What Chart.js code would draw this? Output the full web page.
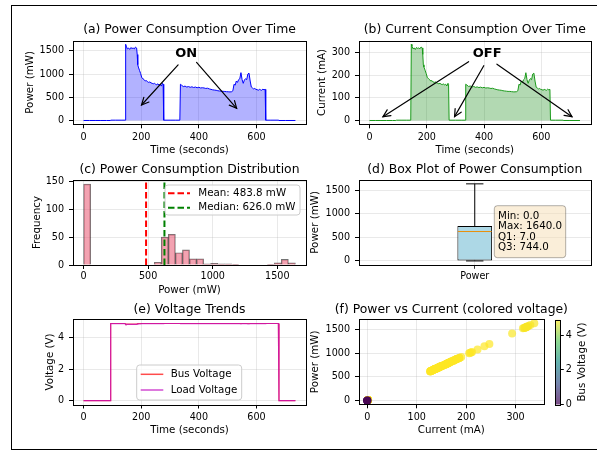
<!DOCTYPE html>
<html><head><meta charset="utf-8">
<script src="https://cdn.jsdelivr.net/npm/chart.js@4.4.1/dist/chart.umd.min.js"></script>
<style>
html,body{margin:0;padding:0;background:#fff;}
body{width:597px;height:450px;overflow:hidden;position:relative;}
canvas{position:absolute;}
#frame{position:absolute;left:11px;top:5px;width:700px;height:445px;border:1px solid #000;box-sizing:border-box;}
</style></head><body>
<div id="frame"></div>
<canvas id="ca"></canvas><canvas id="cbp"></canvas><canvas id="cc"></canvas><canvas id="cd"></canvas><canvas id="ce"></canvas><canvas id="cf"></canvas><canvas id="ccb"></canvas>
<script>
// ---------------- data ----------------
const timeSec = [0,20,40,60,80,92,94,110,130,144,
  146,148,152,156,160,164,168,172,176,180,
  184,186,188,190,194,198,202,206,210,214,
  218,222,226,230,234,238,242,246,250,254,
  258,262,266,270,274,276,278,300,320,334,
  336,340,346,352,358,364,370,376,382,388,
  394,400,406,412,418,424,430,436,442,448,
  454,460,466,472,478,484,490,496,502,508,
  514,518,522,526,530,534,538,542,546,550,
  554,558,562,566,570,574,578,582,586,590,
  594,598,602,606,610,614,618,622,626,630,
  632,650,676,678,700,735];
const powerMW = [0,0,0,0,0,0,7,7,7,7,
  1640,1600,1540,1560,1530,1570,1550,1560,1540,1580,
  1560,1420,1200,1150,1080,1010,920,900,880,850,
  860,830,820,830,810,800,790,800,780,770,
  790,760,780,740,800,780,7,7,7,7,
  780,760,730,740,720,730,715,725,710,720,
  705,715,700,705,700,690,695,680,670,660,
  655,650,640,635,630,628,625,620,618,615,
  620,640,780,760,850,820,880,900,1030,880,
  800,870,900,880,1000,1020,850,720,700,680,
  690,670,665,650,670,660,650,675,660,670,
  7,7,7,0,0,0];
const currentMA = [0,0,0,0,0,0,1.4,1.4,1.4,1.4,
  338,330,318,322,315,324,320,322,318,326,
  322,293,247,237,223,208,190,186,181,175,
  177,171,169,171,167,165,163,165,161,159,
  163,157,161,153,165,161,1.4,1.4,1.4,1.4,
  161,157,151,153,148,151,147,149,146,148,
  145,147,144,145,144,142,143,140,138,136,
  135,134,132,131,130,129,129,128,127,127,
  128,132,161,157,175,169,181,186,212,181,
  165,179,186,181,206,210,175,148,144,140,
  142,138,137,134,138,136,134,139,136,138,
  1.4,1.4,1.4,0,0,0];
const busV = [0,0,0,0,0,0,4.88,4.88,4.88,4.88,
  4.84,4.84,4.84,4.84,4.84,4.84,4.84,4.84,4.84,4.84,
  4.84,4.86,4.88,4.88,4.88,4.88,4.88,4.88,4.88,4.88,
  4.88,4.88,4.88,4.88,4.88,4.88,4.88,4.88,4.88,4.88,
  4.88,4.88,4.88,4.88,4.88,4.88,4.88,4.88,4.88,4.88,
  4.88,4.88,4.88,4.88,4.88,4.88,4.88,4.88,4.88,4.88,
  4.88,4.88,4.88,4.88,4.88,4.88,4.88,4.88,4.88,4.88,
  4.88,4.88,4.88,4.88,4.88,4.88,4.88,4.88,4.88,4.88,
  4.88,4.88,4.88,4.88,4.88,4.88,4.88,4.88,4.88,4.88,
  4.88,4.88,4.88,4.88,4.88,4.88,4.88,4.88,4.88,4.88,
  4.88,4.88,4.88,4.88,4.88,4.88,4.88,4.88,4.88,4.88,
  4.88,4.88,4.88,0,0,0];
const loadV = [0,0,0,0,0,0,4.87,4.87,4.87,4.87,
  4.82,4.82,4.82,4.82,4.82,4.82,4.82,4.82,4.82,4.82,
  4.82,4.84,4.86,4.86,4.86,4.86,4.87,4.87,4.87,4.87,
  4.87,4.87,4.87,4.87,4.87,4.87,4.87,4.87,4.87,4.87,
  4.87,4.87,4.87,4.87,4.87,4.87,4.88,4.88,4.88,4.88,
  4.87,4.87,4.87,4.87,4.87,4.87,4.87,4.87,4.87,4.87,
  4.87,4.87,4.87,4.87,4.87,4.87,4.87,4.87,4.87,4.87,
  4.87,4.87,4.87,4.87,4.87,4.87,4.87,4.87,4.87,4.87,
  4.87,4.87,4.87,4.87,4.87,4.87,4.87,4.87,4.86,4.87,
  4.87,4.87,4.87,4.87,4.86,4.86,4.87,4.87,4.87,4.87,
  4.87,4.87,4.87,4.87,4.87,4.87,4.87,4.87,4.87,4.87,
  4.88,4.88,4.88,0,0,0];
const histBinWidth = 54.67;
const histCounts = [145,0,0,0,0,0,0,0,0,0,
  5,50,55,22,27,11,11,2,3,2,
  2,1,0,0,0,0,1,4,10,4];
const meanPower = 483.8;
const medianPower = 626.0;
const boxMin = 0.0, boxQ1 = 7.0, boxMedian = 626.0, boxQ3 = 744.0, boxMax = 1640.0;
const timeTicks = [0,200,400,600];
const powerTicks = [0,500,1000,1500];
const currentTicks = [0,100,200,300];
const freqTicks = [0,50,100,150];
const voltTicks = [0,2,4];
const cbTicks = [0,2,4];
const onLabel = 'ON', onText = [356,1446], onStarts = [[328,1196],[392,1252]], onTips = [[201,334],[531,263]];
const offLabel = 'OFF', offText = [411,298], offStarts = [[346,261],[399,243],[445,250]], offTips = [[47,17],[297,17],[707,17]];

// ---------------- style helpers ----------------
const FF = "'DejaVu Sans', sans-serif";
const TICK = 9.6, LAB = 10.3, TIT = 12.4;
const GRID = 'rgba(176,176,176,0.35)';
Chart.defaults.font.family = FF;
Chart.defaults.color = '#000';
const extras = {};

function linAxis(min, max, ticks, title, tpad, isX, pad){
  return {type:'linear', min:min, max:max, offset:false,
    afterBuildTicks: s => { s.ticks = ticks.map(v => ({value:v})); },
    grid:{color:GRID, lineWidth:0.8, tickColor:'#000', tickLength:4, tickWidth:1, offset:false},
    border:{display:false},
    ticks:{font:{size:TICK}, color:'#000', padding: pad, maxRotation:0, autoSkip:false, callback: v => String(v)},
    title: title ? {display:true, text:title, font:{size:LAB}, color:'#000', padding:tpad} : {display:false}
  };
}
function rr(ctx,x,y,w,h,r){ctx.beginPath();ctx.moveTo(x+r,y);ctx.lineTo(x+w-r,y);ctx.quadraticCurveTo(x+w,y,x+w,y+r);ctx.lineTo(x+w,y+h-r);ctx.quadraticCurveTo(x+w,y+h,x+w-r,y+h);ctx.lineTo(x+r,y+h);ctx.quadraticCurveTo(x,y+h,x,y+h-r);ctx.lineTo(x,y+r);ctx.quadraticCurveTo(x,y,x+r,y);ctx.closePath();}
function arrow(ctx,x1,y1,x2,y2){
  ctx.beginPath();ctx.moveTo(x1,y1);ctx.lineTo(x2,y2);ctx.stroke();
  const a=Math.atan2(y2-y1,x2-x1),L=8,h=0.45;
  ctx.beginPath();ctx.moveTo(x2-L*Math.cos(a-h),y2-L*Math.sin(a-h));ctx.lineTo(x2,y2);ctx.lineTo(x2-L*Math.cos(a+h),y2-L*Math.sin(a+h));ctx.stroke();
}
function callout(chart,ctx,label,pos,starts,tips){
  const xs=chart.scales.x, ys=chart.scales.y;
  ctx.strokeStyle='#000'; ctx.lineWidth=1.2; ctx.lineCap='round';
  starts.forEach((s,i)=>arrow(ctx,xs.getPixelForValue(s[0]),ys.getPixelForValue(s[1]),xs.getPixelForValue(tips[i][0]),ys.getPixelForValue(tips[i][1])));
  ctx.fillStyle='#000'; ctx.font='bold 13px '+FF; ctx.textAlign='center'; ctx.textBaseline='middle';
  ctx.fillText(label,xs.getPixelForValue(pos[0]),ys.getPixelForValue(pos[1]));
}
function legendBox(chart,ctx,rect,items,lx1,lx2,tx){
  const b=extras[chart.canvas.id].box, X=v=>v-b[0], Y=v=>v-b[1];
  ctx.save();
  ctx.fillStyle='rgba(255,255,255,0.8)'; ctx.strokeStyle='#cccccc'; ctx.lineWidth=1;
  rr(ctx,X(rect[0]),Y(rect[1]),rect[2]-rect[0],rect[3]-rect[1],3); ctx.fill(); ctx.stroke();
  items.forEach(it=>{
    ctx.strokeStyle=it.color; ctx.lineWidth=it.lw; ctx.setLineDash(it.dash||[]);
    ctx.beginPath(); ctx.moveTo(X(lx1),Y(it.y)); ctx.lineTo(X(lx2),Y(it.y)); ctx.stroke(); ctx.setLineDash([]);
    ctx.fillStyle='#000'; ctx.font=LAB+'px '+FF; ctx.textAlign='left'; ctx.textBaseline='middle';
    ctx.fillText(it.text,X(tx),Y(it.y));
  });
  ctx.restore();
}
const VIR=[[68,1,84],[59,82,139],[33,145,140],[94,201,98],[253,231,37]];
function viridis(t,a){t=Math.max(0,Math.min(1,t));const s=t*4,i=Math.min(3,Math.floor(s)),f=s-i;const c=VIR[i].map((v,k)=>Math.round(v+(VIR[i+1][k]-v)*f));return 'rgba('+c[0]+','+c[1]+','+c[2]+','+a+')';}

Chart.register({
  id:'deco',
  beforeDatasetsDraw(chart){const e=extras[chart.canvas.id]; if(e&&e.before){chart.ctx.save();e.before(chart,chart.ctx);chart.ctx.restore();}},
  afterDatasetsDraw(chart){const e=extras[chart.canvas.id]; if(e&&e.after){chart.ctx.save();e.after(chart,chart.ctx);chart.ctx.restore();}},
  afterDraw(chart){
    const e=extras[chart.canvas.id]; if(!e) return;
    const ctx=chart.ctx, a=chart.chartArea;
    ctx.save();
    ctx.strokeStyle='#000'; ctx.lineWidth=1;
    const l=Math.round(a.left),t=Math.round(a.top),r=Math.round(a.right),bt=Math.round(a.bottom);
    ctx.strokeRect(l+0.5,t+0.5,r-l,bt-t);
    if(e.title){ctx.fillStyle='#000';ctx.font=TIT+'px '+FF;ctx.textAlign='center';ctx.textBaseline='middle';ctx.fillText(e.title,(a.left+a.right)/2,e.titleY-e.box[1]);}
    if(e.last) e.last(chart,ctx);
    ctx.restore();
  }
});

function build(id,box,plot,cfg,ex){
  const cv=document.getElementById(id);
  cv.style.left=box[0]+'px'; cv.style.top=box[1]+'px'; cv.style.width=box[2]+'px'; cv.style.height=box[3]+'px';
  cv.width=box[2]; cv.height=box[3];
  ex.box=box; extras[id]=ex;
  const o=cfg.options;
  o.responsive=false; o.animation=false; o.devicePixelRatio=1;
  o.plugins=Object.assign({legend:{display:false},tooltip:{enabled:false}},o.plugins||{});
  const pad={left:0,right:0,top:plot[1]-box[1],bottom:0};
  const ys=o.scales.y, xs=o.scales.x;
  if(ys.position==='right'){pad.left=plot[0]-box[0]; ys.afterFit=s=>{s.width=box[0]+box[2]-plot[2];};}
  else {pad.right=box[0]+box[2]-plot[2]; ys.afterFit=s=>{s.width=plot[0]-box[0];};}
  if(xs.display===false){pad.bottom=box[1]+box[3]-plot[3];}
  else {xs.afterFit=s=>{s.height=box[1]+box[3]-plot[3];};}
  o.layout={padding:pad};
  return new Chart(cv,cfg);
}
const hl = LAB*1.2/2;

// (a) power over time
build('ca',[12,15,298,145],[73,40.5,306,124.3],{
  type:'line',
  data:{datasets:[{data:timeSec.map((t,i)=>({x:t,y:powerMW[i]})),borderColor:'#0000ff',borderWidth:1,backgroundColor:'rgba(0,0,255,0.3)',fill:'origin',pointRadius:0,tension:0}]},
  options:{scales:{
    x:linAxis(-36.75,771.75,timeTicks,'Time (seconds)',{top:0,bottom:160-150-hl},true,3),
    y:linAxis(-82,1722,powerTicks,'Power (mW)',{top:30-12-hl,bottom:0},false,5)}}
},{title:'(a) Power Consumption Over Time',titleY:29.3,last:(c,ctx)=>callout(c,ctx,onLabel,onText,onStarts,onTips)});

// (b) current over time
build('cbp',[300,15,296,145],[359,40.5,590.5,124.3],{
  type:'line',
  data:{datasets:[{data:timeSec.map((t,i)=>({x:t,y:currentMA[i]})),borderColor:'#1a9a1a',borderWidth:1,backgroundColor:'rgba(0,128,0,0.3)',fill:'origin',pointRadius:0,tension:0}]},
  options:{scales:{
    x:linAxis(-36.75,771.75,timeTicks,'Time (seconds)',{top:0,bottom:160-150-hl},true,3),
    y:linAxis(-16.9,354.9,currentTicks,'Current (mA)',{top:322-300-hl,bottom:0},false,5)}}
},{title:'(b) Current Consumption Over Time',titleY:29.3,last:(c,ctx)=>callout(c,ctx,offLabel,offText,offStarts,offTips)});

// (c) histogram
const histTop = 152.25;
build('cc',[12,160,298,140],[73,180,306,265],{
  type:'bar',
  data:{datasets:[
    {type:'line',order:0,data:[{x:meanPower,y:0},{x:meanPower,y:histTop}],borderColor:'#ff0000',borderWidth:2,borderDash:[6.5,3],pointRadius:0},
    {type:'line',order:0,data:[{x:medianPower,y:0},{x:medianPower,y:histTop}],borderColor:'#008000',borderWidth:2,borderDash:[6.5,3],pointRadius:0},
    {type:'bar',order:1,data:histCounts.map((c,i)=>({x:(i+0.5)*histBinWidth,y:c})),backgroundColor:'rgba(235,100,125,0.6)',borderColor:'rgba(0,0,0,0.55)',borderWidth:0.8,barPercentage:1,categoryPercentage:1}
  ]},
  options:{scales:{
    x:linAxis(-82,1722,powerTicks,'Power (mW)',{top:0,bottom:300-290-hl},true,2),
    y:linAxis(0,histTop,freqTicks,'Frequency',{top:37.3-12-hl,bottom:0},false,5)}}
},{title:'(c) Power Consumption Distribution',titleY:170,last:(c,ctx)=>legendBox(c,ctx,[165,185,300,215],[
  {y:193.3,color:'#ff0000',lw:2,dash:[6.5,3],text:'Mean: '+meanPower.toFixed(1)+' mW'},
  {y:207.7,color:'#008000',lw:2,dash:[6.5,3],text:'Median: '+medianPower.toFixed(1)+' mW'}],168,190,198.3)});

// (d) box plot
build('cd',[300,160,296,125],[359,180,590.5,264.8],{
  type:'bar',
  data:{labels:['Power'],datasets:[{data:[[boxQ1,boxQ3]],backgroundColor:'#add8e6',borderColor:'#000',borderWidth:1,borderSkipped:false,barPercentage:0.15,categoryPercentage:1}]},
  options:{scales:{
    x:{type:'category',offset:true,grid:{offset:false,color:GRID,lineWidth:0.8,tickColor:'#000',tickLength:4},border:{display:false},ticks:{font:{size:TICK},color:'#000',padding:1.5}},
    y:linAxis(-82,1722,powerTicks,'Power (mW)',{top:315.3-300-hl,bottom:0},false,5)}}
},{title:'(d) Box Plot of Power Consumption',titleY:169.5,
  before:(c,ctx)=>{
    const el=c.getDatasetMeta(0).data[0], y=c.scales.y, x=el.x, hw=el.width/2;
    ctx.strokeStyle='#000'; ctx.lineWidth=1;
    ctx.beginPath(); ctx.moveTo(x,y.getPixelForValue(boxQ3)); ctx.lineTo(x,y.getPixelForValue(boxMax));
    ctx.moveTo(x,y.getPixelForValue(boxQ1)); ctx.lineTo(x,y.getPixelForValue(boxMin));
    ctx.moveTo(x-hw/2,y.getPixelForValue(boxMax)); ctx.lineTo(x+hw/2,y.getPixelForValue(boxMax));
    ctx.moveTo(x-hw/2,y.getPixelForValue(boxMin)); ctx.lineTo(x+hw/2,y.getPixelForValue(boxMin));
    ctx.stroke();
  },
  after:(c,ctx)=>{
    const el=c.getDatasetMeta(0).data[0], y=c.scales.y, x=el.x, hw=el.width/2;
    ctx.strokeStyle='#e8900c'; ctx.lineWidth=1;
    ctx.beginPath(); ctx.moveTo(x-hw+0.5,y.getPixelForValue(boxMedian)); ctx.lineTo(x+hw-0.5,y.getPixelForValue(boxMedian)); ctx.stroke();
  },
  last:(c,ctx)=>{
    const b=extras['cd'].box, X=v=>v-b[0], Y=v=>v-b[1];
    ctx.fillStyle='rgba(245,222,179,0.5)'; ctx.strokeStyle='rgba(0,0,0,0.3)'; ctx.lineWidth=1;
    rr(ctx,X(494.3),Y(205.7),71.4,52,3); ctx.fill(); ctx.stroke();
    ctx.fillStyle='#000'; ctx.font=LAB+'px '+FF; ctx.textAlign='left'; ctx.textBaseline='middle';
    const lines=['Min: '+boxMin.toFixed(1),'Max: '+boxMax.toFixed(1),'Q1: '+boxQ1.toFixed(1),'Q3: '+boxQ3.toFixed(1)];
    lines.forEach((s,i)=>ctx.fillText(s,X(498),Y(216+i*10.5)));
  }});

// (e) voltage trends
build('ce',[12,300,298,142],[73,319.3,306,404.5],{
  type:'line',
  data:{datasets:[
    {order:1,data:timeSec.map((t,i)=>({x:t,y:busV[i]})),borderColor:'rgba(255,0,0,0.7)',borderWidth:1.2,pointRadius:0,fill:false,tension:0},
    {order:0,data:timeSec.map((t,i)=>({x:t,y:loadV[i]})),borderColor:'rgba(191,0,191,0.7)',borderWidth:1.2,pointRadius:0,fill:false,tension:0}]},
  options:{scales:{
    x:linAxis(-36.75,771.75,timeTicks,'Time (seconds)',{top:0,bottom:442-430-hl},true,3),
    y:linAxis(-0.245,5.145,voltTicks,'Voltage (V)',{top:50-12-hl,bottom:0},false,5)}}
},{title:'(e) Voltage Trends',titleY:309.3,last:(c,ctx)=>legendBox(c,ctx,[136.7,365,241.7,400],[
  {y:374.3,color:'rgba(255,0,0,0.7)',lw:1.5,text:'Bus Voltage'},
  {y:390,color:'rgba(191,0,191,0.7)',lw:1.5,text:'Load Voltage'}],140.7,163.3,170.7)});

// (f) power vs current
const vMax = Math.max(...busV);
build('cf',[300,300,296,142],[359,319.3,543.7,404.3],{
  type:'scatter',
  data:{datasets:[{data:currentMA.map((c,i)=>({x:c,y:powerMW[i]})),pointRadius:4,pointBorderWidth:0,pointBackgroundColor:busV.map(v=>viridis(v/vMax,0.7))}]},
  options:{scales:{
    x:linAxis(-17,357,currentTicks,'Current (mA)',{top:0,bottom:442-430-hl},true,3),
    y:linAxis(-82,1722,powerTicks,'Power (mW)',{top:315.3-300-hl,bottom:0},false,5)}}
},{title:'(f) Power vs Current (colored voltage)',titleY:309.3});

// colorbar
build('ccb',[550,300,46,142],[555.3,319.8,560.3,404.5],{
  type:'scatter',
  data:{datasets:[]},
  options:{scales:{
    x:{display:false,min:0,max:1},
    y:{position:'right',min:0,max:vMax,afterBuildTicks:s=>{s.ticks=cbTicks.map(v=>({value:v}));},
       grid:{drawOnChartArea:false,tickColor:'#000',tickLength:3.5},border:{display:false},
       ticks:{font:{size:TICK},color:'#000',padding:2}}}}
},{before:(c,ctx)=>{
    const a=c.chartArea, g=ctx.createLinearGradient(0,a.bottom,0,a.top);
    for(let k=0;k<=20;k++){g.addColorStop(k/20,viridis(k/20,0.7));}
    ctx.fillStyle=g; ctx.fillRect(a.left,a.top,a.right-a.left,a.bottom-a.top);
  },
  last:(c,ctx)=>{
    ctx.save(); ctx.translate(582-550,362-300); ctx.rotate(-Math.PI/2);
    ctx.fillStyle='#000'; ctx.font=LAB+'px '+FF; ctx.textAlign='center'; ctx.textBaseline='middle';
    ctx.fillText('Bus Voltage (V)',0,0); ctx.restore();
  }});
</script>
</body></html>
